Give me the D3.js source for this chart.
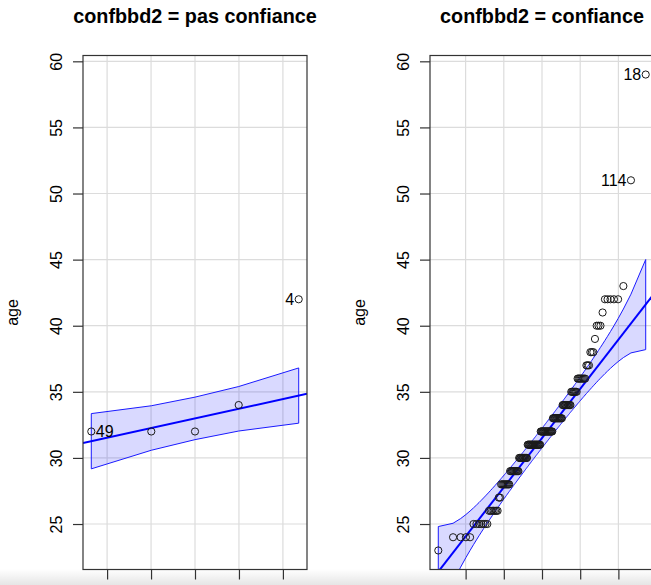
<!DOCTYPE html>
<html><head><meta charset="utf-8">
<script src="https://cdn.jsdelivr.net/npm/d3@7"></script>
<style>
html,body{margin:0;padding:0;background:#fff;overflow:hidden}
svg{display:block}
text{font-family:"Liberation Sans",Arial,Helvetica,sans-serif;fill:#000}
</style></head><body>
<svg id="chart" width="651" height="585"></svg>
<script>
// ---- data ----
const panelTitles = ["confbbd2 = pas confiance", "confbbd2 = confiance"];
const yLabel = "age";
const agePasConfiance = [32, 32, 32, 34, 42];
const ageConfiance = [
  23,
  24,24,24,24,
  25,25,25,25,25,25,25,
  26,26,26,26,26,26,26,
  27,27,
  28,28,28,28,28,28,28,28,28,
  29,29,29,29,29,29,29,29,29,29,29,
  30,30,30,30,30,30,30,30,30,30,30,30,
  31,31,31,31,31,31,31,31,31,31,31,31,31,31,31,31,31,31,31,31,
  32,32,32,32,32,32,32,32,32,32,32,32,32,32,32,32,32,32,32,
  33,33,33,33,33,33,33,33,33,33,33,33,33,33,
  34,34,34,34,34,34,34,34,34,34,34,
  35,35,35,35,35,35,35,
  36,36,36,36,36,36,36,36,
  37,37,37,
  38,38,38,
  39,
  40,40,40,
  41,
  42,42,42,42,42,
  43,
  51,
  59
];
const idLabelsPas = ["49", "4"];
const idRanksPas = [0, 4];
const idLabelsConf = ["114", "18"];
const idRanksConf = [149, 150];
const fitIntercept = [32.99, 31.5];
const fitSlope = [1.464, 3.72];
const envelopeLevel = 0.95;
const yTicks = [25, 30, 35, 40, 45, 50, 55, 60];
const xTicksPas = [-1, -0.5, 0, 0.5, 1];
const xTicksConf = [-2, -1, 0, 1, 2];

// ---- helpers ----
function qnorm(p){
  const a=[-3.969683028665376e+01,2.209460984245205e+02,-2.759285104469687e+02,1.383577518672690e+02,-3.066479806614716e+01,2.506628277459239e+00];
  const b=[-5.447609879822406e+01,1.615858368580409e+02,-1.556989798598866e+02,6.680131188771972e+01,-1.328068155288572e+01];
  const c=[-7.784894002430293e-03,-3.223964580411365e-01,-2.400758277161838e+00,-2.549732539343734e+00,4.374664141464968e+00,2.938163982698783e+00];
  const d=[7.784695709041462e-03,3.224671290700398e-01,2.445134137142996e+00,3.754408661907416e+00];
  const pl=0.02425, ph=1-pl; let q,r;
  if(p<pl){q=Math.sqrt(-2*Math.log(p));return (((((c[0]*q+c[1])*q+c[2])*q+c[3])*q+c[4])*q+c[5])/((((d[0]*q+d[1])*q+d[2])*q+d[3])*q+1);}
  if(p>ph){q=Math.sqrt(-2*Math.log(1-p));return -(((((c[0]*q+c[1])*q+c[2])*q+c[3])*q+c[4])*q+c[5])/((((d[0]*q+d[1])*q+d[2])*q+d[3])*q+1);}
  q=p-0.5;r=q*q;return (((((a[0]*r+a[1])*r+a[2])*r+a[3])*r+a[4])*r+a[5])*q/(((((b[0]*r+b[1])*r+b[2])*r+b[3])*r+b[4])*r+1);
}
const dnorm = z => Math.exp(-z*z/2)/Math.sqrt(2*Math.PI);
function ppoints(n){ const a = n<=10 ? 3/8 : 0.5; return d3.range(1,n+1).map(i => (i-a)/(n+1-2*a)); }
function extend(ext){ const r=(ext[1]-ext[0])*0.04; return [ext[0]-r, ext[1]+r]; }

const svg = d3.select("#chart");
const plotTop = 55.5, plotBottom = 569.5;
const allAges = agePasConfiance.concat(ageConfiance);
const yDomain = extend(d3.extent(allAges));
const y = d3.scaleLinear().domain(yDomain).range([plotBottom, plotTop]);

const panels = [
  {title: panelTitles[0], data: agePasConfiance, labels: idLabelsPas, ranks: idRanksPas, xTicks: xTicksPas, x0: 83, x1: 307},
  {title: panelTitles[1], data: ageConfiance, labels: idLabelsConf, ranks: idRanksConf, xTicks: xTicksConf, x0: 430, x1: 654}
];

panels.forEach((pn, k) => {
  const n = pn.data.length;
  const P = ppoints(n);
  const zq = P.map(qnorm);
  const sorted = pn.data.slice().sort((a,b)=>a-b);
  const x = d3.scaleLinear().domain(extend(d3.extent(zq))).range([pn.x0, pn.x1]);
  const a0 = fitIntercept[k], b0 = fitSlope[k];
  const zz = qnorm(1-(1-envelopeLevel)/2);
  const env = zq.map((z,i) => {
    const se = (b0/dnorm(z))*Math.sqrt(P[i]*(1-P[i])/n);
    const fit = a0 + b0*z;
    return {z, upper: fit + zz*se, lower: fit - zz*se};
  });

  const g = svg.append("g");
  const clipId = "clip"+k;
  svg.append("clipPath").attr("id", clipId).append("rect")
    .attr("x", pn.x0).attr("y", plotTop).attr("width", pn.x1-pn.x0).attr("height", plotBottom-plotTop);
  const inner = g.append("g").attr("clip-path", `url(#${clipId})`);

  // grid
  inner.selectAll("line.gx").data(pn.xTicks).join("line").attr("class","gx")
    .attr("x1", d=>x(d)).attr("x2", d=>x(d)).attr("y1", plotTop).attr("y2", plotBottom)
    .attr("stroke", "#dcdcdc").attr("stroke-width", 1.2);
  inner.selectAll("line.gy").data(yTicks).join("line").attr("class","gy")
    .attr("y1", d=>y(d)).attr("y2", d=>y(d)).attr("x1", pn.x0).attr("x2", pn.x1)
    .attr("stroke", "#dcdcdc").attr("stroke-width", 1.2);

  // envelope
  const area = d3.area().x(d=>x(d.z)).y0(d=>y(d.lower)).y1(d=>y(d.upper));
  inner.append("path").datum(env).attr("d", area)
    .attr("fill", "rgba(0,0,255,0.15)").attr("stroke", "#1a1aff").attr("stroke-width", 1);

  // robust fit line
  const xd = x.domain();
  const line = d3.line().x(d=>x(d)).y(d=>y(a0 + b0*d));
  inner.append("path").datum(xd).attr("d", line)
    .attr("fill", "none").attr("stroke", "#0000ff").attr("stroke-width", 2);

  // points
  inner.selectAll("circle").data(sorted).join("circle")
    .attr("cx", (d,i)=>x(zq[i])).attr("cy", d=>y(d)).attr("r", 3.6)
    .attr("fill", "none").attr("stroke", "#1a1a1a").attr("stroke-width", 1);

  // id labels
  const mid = (x.domain()[0]+x.domain()[1])/2;
  pn.ranks.forEach((r, j) => {
    const right = zq[r] > mid;
    g.append("text")
      .attr("x", x(zq[r]) + (right ? -4.5 : 4.5)).attr("y", y(sorted[r]))
      .attr("dy", "0.36em").attr("text-anchor", right ? "end" : "start")
      .attr("font-size", 16).attr("fill", "#222").text(pn.labels[j]);
  });

  // box
  g.append("rect").attr("x", pn.x0).attr("y", plotTop).attr("width", pn.x1-pn.x0).attr("height", plotBottom-plotTop)
    .attr("fill", "none").attr("stroke", "#333").attr("stroke-width", 1.2);

  // y axis
  const ya = g.append("g").attr("transform", `translate(${pn.x0},0)`)
    .call(d3.axisLeft(y).tickValues(yTicks).tickSize(10).tickSizeOuter(0).tickFormat(d3.format("d")));
  ya.select(".domain").remove();
  ya.selectAll(".tick line").attr("stroke", "#333").attr("stroke-width", 1.2);
  ya.selectAll(".tick text").attr("transform", "rotate(-90)").attr("x", 0).attr("y", -21)
    .attr("dy", 0).attr("text-anchor", "middle").attr("font-size", 16)
    .attr("font-family", '"Liberation Sans",Arial,sans-serif').attr("fill", "#222");

  // x axis (labels fall below the visible area)
  const xa = g.append("g").attr("transform", `translate(0,${plotBottom})`)
    .call(d3.axisBottom(x).tickValues(pn.xTicks).tickSize(10).tickSizeOuter(0).tickFormat(""));
  xa.select(".domain").remove();
  xa.selectAll(".tick line").attr("stroke", "#333").attr("stroke-width", 1.2);

  // y label
  g.append("text").attr("transform", `translate(${pn.x0-65},${(plotTop+plotBottom)/2}) rotate(-90)`)
    .attr("text-anchor", "middle").attr("font-size", 16).attr("fill", "#222").text(yLabel);

  // title
  g.append("text").attr("x", (pn.x0+pn.x1)/2).attr("y", 23).attr("text-anchor", "middle")
    .attr("font-size", 19.8).attr("font-weight", "bold").text(pn.title);
});

// bottom shadow band of the screenshot
const defs = svg.append("defs");
const lg = defs.append("linearGradient").attr("id", "shade").attr("x1", 0).attr("x2", 0).attr("y1", 0).attr("y2", 1);
lg.append("stop").attr("offset", "0%").attr("stop-color", "#000").attr("stop-opacity", 0);
lg.append("stop").attr("offset", "100%").attr("stop-color", "#000").attr("stop-opacity", 0.1);
svg.append("rect").attr("x", 0).attr("y", 569).attr("width", 651).attr("height", 16).attr("fill", "url(#shade)");
</script>
</body></html>
